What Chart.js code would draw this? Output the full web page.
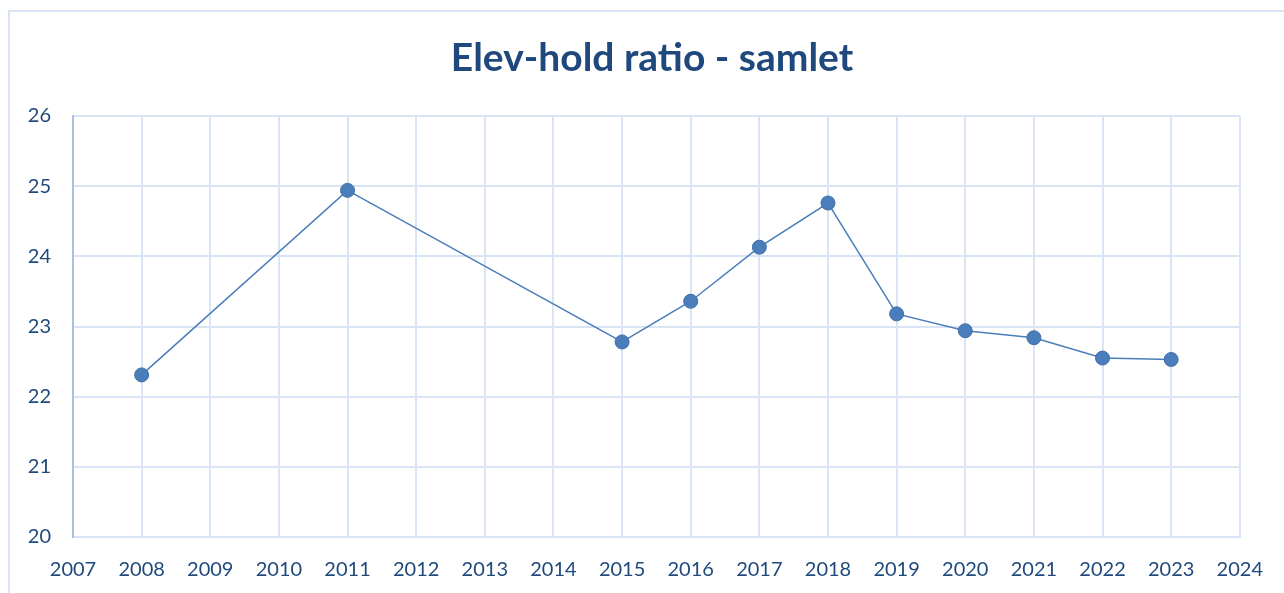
<!DOCTYPE html>
<html>
<head>
<meta charset="utf-8">
<script src="https://cdn.jsdelivr.net/npm/chart.js@4/dist/chart.umd.min.js"></script>
<style>
  html, body { margin: 0; padding: 0; background: #fff; overflow: hidden; }
  #wrap { position: absolute; left: 0; top: 0; width: 1284px; height: 593px; }
  #frame { position: absolute; left: 8px; top: 10px; width: 1300px; height: 620px; border: 2px solid #dae3f3; box-sizing: border-box; }
  canvas { position: absolute; left: 0; top: 0; }
</style>
</head>
<body>
<div id="wrap">
  <div id="frame"></div>
  <canvas id="c" width="1284" height="593"></canvas>
</div>
<script>
const years = [2008, 2011, 2015, 2016, 2017, 2018, 2019, 2020, 2021, 2022, 2023];
const ratio = [22.31, 24.94, 22.78, 23.36, 24.13, 24.76, 23.18, 22.94, 22.84, 22.55, 22.53];
const titleText = 'Elev-hold ratio - samlet';
const xMin = 2007, xMax = 2024;
const yMin = 20, yMax = 26;

const textColor = '#1f497d';
const gridColor = '#d9e4f4';

const titlePlugin = {
  id: 'ttl',
  afterDraw(chart) {
    const ctx = chart.ctx;
    ctx.save();
    ctx.font = 'bold 39px Lato';
    ctx.fillStyle = textColor;
    ctx.textAlign = 'center';
    ctx.textBaseline = 'middle';
    ctx.fillText(titleText, 652, 58);
    ctx.restore();
  }
};

new Chart(document.getElementById('c'), {
  type: 'scatter',
  data: {
    datasets: [{
      data: years.map((y, i) => ({ x: y, y: ratio[i] })),
      showLine: true,
      borderColor: '#4a7ebb',
      borderWidth: 1.5,
      backgroundColor: '#4a7ebb',
      pointBorderColor: '#3f6fa8',
      pointBorderWidth: 1,
      pointRadius: 7,
      tension: 0
    }]
  },
  options: {
    responsive: false,
    animation: false,
    layout: { padding: { left: 0, right: 43, top: 116, bottom: 0 } },
    plugins: { legend: { display: false }, tooltip: { enabled: false }, title: { display: false } },
    scales: {
      x: {
        type: 'linear',
        min: xMin, max: xMax,
        ticks: { stepSize: 1, color: textColor, font: { family: 'Lato', size: 20 }, padding: 21, callback: v => String(v), maxRotation: 0, autoSkip: false },
        grid: { color: gridColor, lineWidth: 2, drawTicks: false },
        border: { color: gridColor, width: 2 },
        afterFit(s) { s.height = 56; }
      },
      y: {
        min: yMin, max: yMax,
        ticks: { stepSize: 1, color: textColor, font: { family: 'Lato', size: 20 }, padding: 22 },
        grid: { color: gridColor, lineWidth: 2, drawTicks: false },
        border: { color: '#a9c0e4', width: 2 },
        afterFit(s) { s.width = 73; }
      }
    }
  },
  plugins: [titlePlugin]
});
</script>
</body>
</html>
